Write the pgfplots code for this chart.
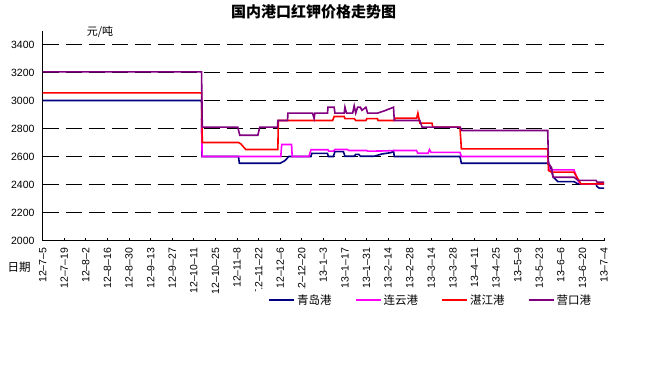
\documentclass[border=0pt]{standalone}
\usepackage{fontspec}
\setmainfont{Liberation Sans}
\newfontfamily\cjk{Noto Sans CJK SC}
\usepackage{pgfplots}
\pgfplotsset{compat=1.18}
\definecolor{cnavy}{RGB}{0,0,128}
\definecolor{cmag}{RGB}{255,0,255}
\definecolor{cred}{RGB}{255,0,0}
\definecolor{cpur}{RGB}{128,0,128}
\begin{document}
\begin{tikzpicture}
\path[use as bounding box] (-42.7pt,-129.5pt) rectangle (602.3pt,240.5pt);
\begin{axis}[
  at={(0,0)}, anchor=south west, scale only axis,
  width=561.3pt, height=210pt,
  xmin=0, xmax=364, ymin=2000, ymax=3500,
  axis x line*=bottom, axis y line*=left,
  axis line style={black, line width=0.8pt, -},
  xtick={0,14,...,364},
  xticklabels={12--7--5,12--7--19,12--8--2,12--8--16,12--8--30,12--9--13,12--9--27,12--10--11,12--10--25,12--11--8,12--11--22,12--12--6,12--12--20,13--1--3,13--1--17,13--1--31,13--2--14,13--2--28,13--3--14,13--3--28,13--4--11,13--4--25,13--5--9,13--5--23,13--6--6,13--6--20,13--7--4},
  ytick={2000,2200,...,3400},
  tick align=inside, major tick length=3pt,
  xtick style={black, line width=0.8pt},
  ytick style={draw=none},
  ymajorgrids,
  major grid style={black, line width=0.8pt, dash pattern=on 16pt off 7pt},
  /pgf/number format/assume math mode=true,
  /pgf/number format/1000 sep={},
  yticklabel style={font=\fontsize{10.5}{12}\selectfont, inner sep=0pt},
  yticklabel shift=8pt,
  xticklabel style={font=\fontsize{10.5}{12}\selectfont, rotate=90, anchor=east, inner sep=0pt},
  xticklabel shift=7pt,
  title={\cjk\bfseries 国内港口红钾价格走势图},
  title style={at={(0.4825,1.062)}, anchor=center, font=\fontsize{15}{18}\selectfont},
  legend columns=4,
  legend style={draw=none, fill=white, at={(0.380,-0.283)}, anchor=west,
    font=\fontsize{11.5}{13}\selectfont, inner xsep=12pt, inner ysep=3pt,
    /tikz/every even column/.append style={column sep=21pt}},
  legend image code/.code={\draw[#1, line width=2pt] (0pt,0pt) -- (25pt,0pt);},
  every axis plot/.append style={line width=1.6pt, sharp plot, mark=none},
  clip=false
]
\addplot[cnavy] coordinates {(0,3000)(103,3000)(103.3,2600)(127,2600)(127.5,2552)(154,2552)(157,2570)(159.6,2600)(173.9,2600)(174.5,2622)(184.7,2622)(185.2,2600)(188.5,2600)(189.5,2635)(195,2635)(196,2602)(202,2602)(203,2615)(205,2615)(206,2602)(215,2602)(220,2618)(226,2628)(227.5,2640)(228,2600)(270.6,2600)(271.5,2552)(327.5,2552)(329.5,2515)(331,2455)(334,2421)(344.5,2421)(347,2405)(358.8,2405)(359.3,2388)(360.8,2374)(364,2374)};
\addlegendentry{\cjk 青岛港}
\addplot[cmag] coordinates {(103,2870)(103.4,2600)(154.4,2600)(155,2686)(161.4,2686)(161.8,2600)(172.6,2600)(174,2648)(185,2648)(185.5,2638)(188.5,2638)(189.5,2650)(197.5,2650)(198.5,2643)(210,2643)(211,2638)(222,2640)(228,2643)(242.3,2643)(243.3,2623)(250,2623)(250.8,2650)(251.8,2630)(270.6,2630)(271.5,2600)(327.5,2600)(328.5,2505)(344.5,2505)(347.5,2420)(349,2405)(364,2405)};
\addlegendentry{\cjk 连云港}
\addplot[cred] coordinates {(0,3055)(103,3055)(103.5,2700)(127,2700)(128.5,2690)(131.7,2650)(152.5,2650)(152.8,2857)(188,2857)(189,2886)(195.5,2886)(196,2871)(202,2871)(203,2857)(209.6,2857)(210.2,2871)(217,2871)(217.5,2857)(228,2857)(228.5,2873)(242.5,2873)(243.3,2910)(244.6,2838)(252.4,2838)(253,2810)(270.6,2810)(271.5,2655)(327.5,2655)(328,2500)(330,2488)(344.5,2488)(349,2405)(364,2405)};
\addlegendentry{\cjk 湛江港}
\addplot[cpur] coordinates {(0,3205)(103,3205)(103.5,2810)(126.5,2810)(127.8,2752)(139.5,2752)(140.8,2810)(152.3,2810)(152.5,2857)(158.8,2857)(159,2910)(175,2910)(176,2872)(176.5,2910)(184.7,2910)(185,2952)(189,2952)(189.5,2910)(195.5,2910)(196,2952)(197,2910)(201,2910)(202,2962)(203,2910)(204.2,2952)(206,2952)(207,2930)(209.6,2952)(210.7,2910)(217.2,2910)(222,2928)(227.5,2952)(228,2857)(244.6,2857)(246,2810)(270.6,2810)(271.9,2786)(327.5,2786)(328,2552)(330,2520)(331,2452)(344.5,2452)(347.1,2430)(358.8,2430)(359.5,2417)(364,2417)};
\addlegendentry{\cjk 营口港}
\node[font=\cjk\fontsize{11}{13}\selectfont] at (axis description cs:0.102,0.994) {元/吨};
\node[font=\cjk\fontsize{11.5}{13}\selectfont] at (axis description cs:-0.042,-0.126) {日期};
\end{axis}
\end{tikzpicture}
\end{document}
